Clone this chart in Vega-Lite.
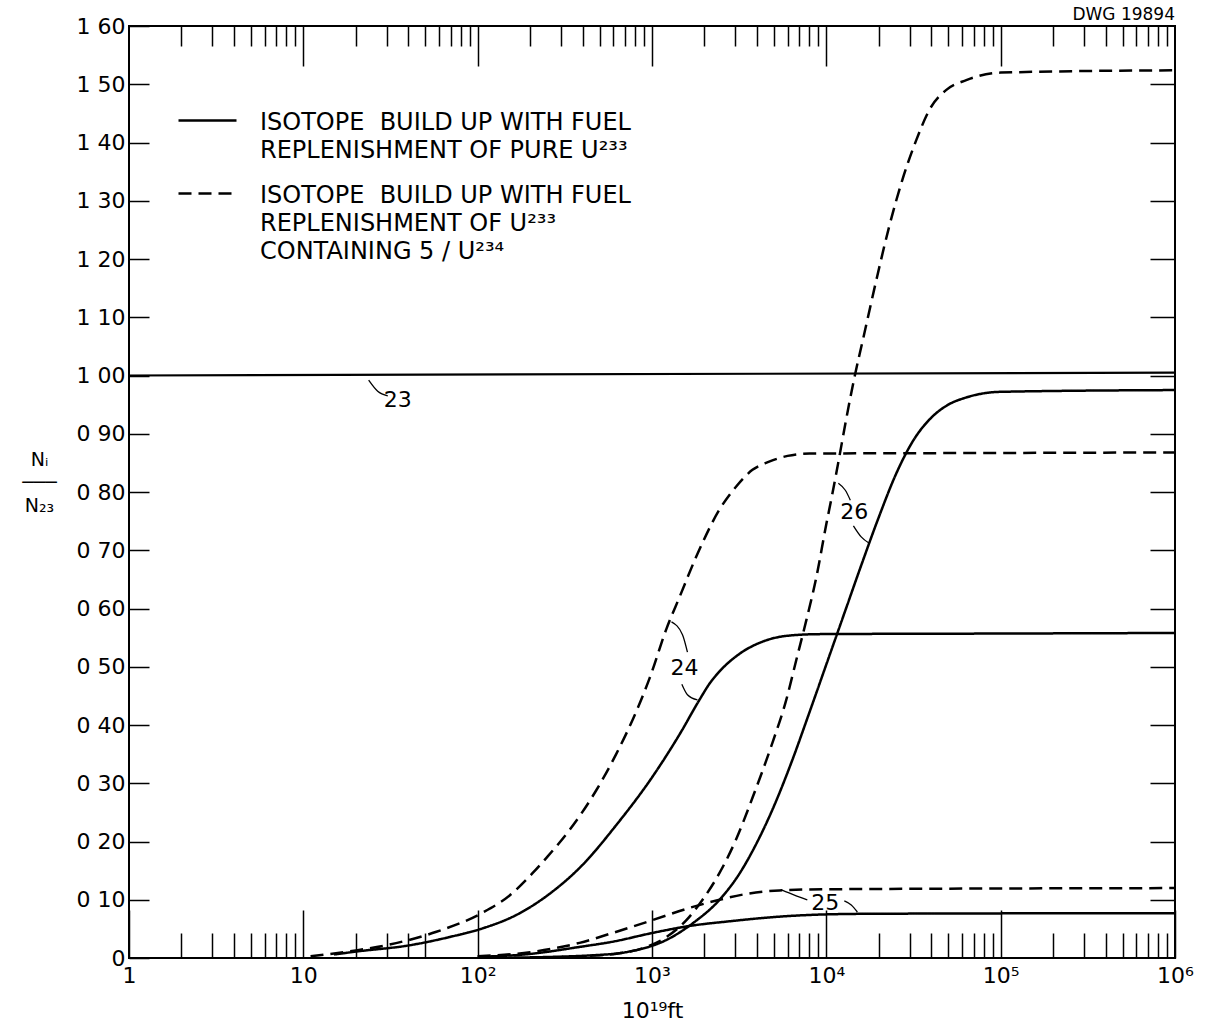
{
  "$schema": "https://vega.github.io/schema/vega-lite/v6.json",
  "width": 1046,
  "height": 932,
  "autosize": {"type": "none"},
  "padding": {"left": 129, "top": 26, "right": 39, "bottom": 70},
  "background": "white",
  "title": {"text": "DWG 19894", "anchor": "end", "frame": "group", "fontSize": 17, "font": "DejaVu Sans", "fontWeight": "normal", "offset": -9, "color": "black"},
  "config": {
    "view": {"stroke": "black", "strokeWidth": 2},
    "font": "DejaVu Sans",
    "axis": {"domain": false, "grid": false, "tickColor": "black", "tickWidth": 1.5, "labelColor": "black", "titleColor": "black", "labelFont": "DejaVu Sans", "titleFont": "DejaVu Sans", "labelFontWeight": "normal", "titleFontWeight": "normal", "labelFlush": false, "labelOverlap": false}
  },
  "datasets": {
    "curves": [
      {"iso": "24", "series": "pure", "x": 15, "y": 0.006},
      {"iso": "24", "series": "pure", "x": 20, "y": 0.011},
      {"iso": "24", "series": "pure", "x": 41, "y": 0.022},
      {"iso": "24", "series": "pure", "x": 69, "y": 0.036},
      {"iso": "24", "series": "pure", "x": 107, "y": 0.051},
      {"iso": "24", "series": "pure", "x": 167, "y": 0.074},
      {"iso": "24", "series": "pure", "x": 258, "y": 0.11},
      {"iso": "24", "series": "pure", "x": 400, "y": 0.16},
      {"iso": "24", "series": "pure", "x": 623, "y": 0.228},
      {"iso": "24", "series": "pure", "x": 1000, "y": 0.31},
      {"iso": "24", "series": "pure", "x": 1440, "y": 0.384},
      {"iso": "24", "series": "pure", "x": 1870, "y": 0.443},
      {"iso": "24", "series": "pure", "x": 2150, "y": 0.472},
      {"iso": "24", "series": "pure", "x": 2440, "y": 0.492},
      {"iso": "24", "series": "pure", "x": 3170, "y": 0.522},
      {"iso": "24", "series": "pure", "x": 4300, "y": 0.543},
      {"iso": "24", "series": "pure", "x": 5900, "y": 0.553},
      {"iso": "24", "series": "pure", "x": 9100, "y": 0.556},
      {"iso": "24", "series": "pure", "x": 100000, "y": 0.557},
      {"iso": "24", "series": "pure", "x": 1000000, "y": 0.558},
      {"iso": "24", "series": "mix", "x": 11, "y": 0.003},
      {"iso": "24", "series": "mix", "x": 20, "y": 0.013},
      {"iso": "24", "series": "mix", "x": 30, "y": 0.022},
      {"iso": "24", "series": "mix", "x": 58, "y": 0.045},
      {"iso": "24", "series": "mix", "x": 107, "y": 0.078},
      {"iso": "24", "series": "mix", "x": 152, "y": 0.107},
      {"iso": "24", "series": "mix", "x": 207, "y": 0.146},
      {"iso": "24", "series": "mix", "x": 248, "y": 0.172},
      {"iso": "24", "series": "mix", "x": 337, "y": 0.22},
      {"iso": "24", "series": "mix", "x": 479, "y": 0.288},
      {"iso": "24", "series": "mix", "x": 623, "y": 0.35},
      {"iso": "24", "series": "mix", "x": 777, "y": 0.41},
      {"iso": "24", "series": "mix", "x": 968, "y": 0.48},
      {"iso": "24", "series": "mix", "x": 1210, "y": 0.565},
      {"iso": "24", "series": "mix", "x": 1440, "y": 0.62},
      {"iso": "24", "series": "mix", "x": 1800, "y": 0.69},
      {"iso": "24", "series": "mix", "x": 2440, "y": 0.77},
      {"iso": "24", "series": "mix", "x": 3050, "y": 0.81},
      {"iso": "24", "series": "mix", "x": 3770, "y": 0.838},
      {"iso": "24", "series": "mix", "x": 4700, "y": 0.852},
      {"iso": "24", "series": "mix", "x": 6000, "y": 0.862},
      {"iso": "24", "series": "mix", "x": 8000, "y": 0.866},
      {"iso": "24", "series": "mix", "x": 100000, "y": 0.867},
      {"iso": "24", "series": "mix", "x": 1000000, "y": 0.868},
      {"iso": "25", "series": "pure", "x": 100, "y": 0.002},
      {"iso": "25", "series": "pure", "x": 200, "y": 0.007},
      {"iso": "25", "series": "pure", "x": 384, "y": 0.019},
      {"iso": "25", "series": "pure", "x": 595, "y": 0.028},
      {"iso": "25", "series": "pure", "x": 1006, "y": 0.043},
      {"iso": "25", "series": "pure", "x": 1640, "y": 0.055},
      {"iso": "25", "series": "pure", "x": 2780, "y": 0.063},
      {"iso": "25", "series": "pure", "x": 5380, "y": 0.071},
      {"iso": "25", "series": "pure", "x": 10400, "y": 0.075},
      {"iso": "25", "series": "pure", "x": 20000, "y": 0.076},
      {"iso": "25", "series": "pure", "x": 1000000, "y": 0.077},
      {"iso": "25", "series": "mix", "x": 100, "y": 0.003},
      {"iso": "25", "series": "mix", "x": 200, "y": 0.01},
      {"iso": "25", "series": "mix", "x": 384, "y": 0.026},
      {"iso": "25", "series": "mix", "x": 595, "y": 0.043},
      {"iso": "25", "series": "mix", "x": 1006, "y": 0.065},
      {"iso": "25", "series": "mix", "x": 1640, "y": 0.086},
      {"iso": "25", "series": "mix", "x": 2440, "y": 0.1},
      {"iso": "25", "series": "mix", "x": 3480, "y": 0.11},
      {"iso": "25", "series": "mix", "x": 5380, "y": 0.116},
      {"iso": "25", "series": "mix", "x": 10000, "y": 0.118},
      {"iso": "25", "series": "mix", "x": 1000000, "y": 0.12},
      {"iso": "26", "series": "pure", "x": 150, "y": 0.0005},
      {"iso": "26", "series": "pure", "x": 480, "y": 0.005},
      {"iso": "26", "series": "pure", "x": 740, "y": 0.011},
      {"iso": "26", "series": "pure", "x": 1210, "y": 0.031},
      {"iso": "26", "series": "pure", "x": 1720, "y": 0.06},
      {"iso": "26", "series": "pure", "x": 2440, "y": 0.1},
      {"iso": "26", "series": "pure", "x": 3162, "y": 0.144},
      {"iso": "26", "series": "pure", "x": 3981, "y": 0.197},
      {"iso": "26", "series": "pure", "x": 5012, "y": 0.261},
      {"iso": "26", "series": "pure", "x": 6310, "y": 0.336},
      {"iso": "26", "series": "pure", "x": 7943, "y": 0.419},
      {"iso": "26", "series": "pure", "x": 10000, "y": 0.504},
      {"iso": "26", "series": "pure", "x": 12590, "y": 0.589},
      {"iso": "26", "series": "pure", "x": 15850, "y": 0.674},
      {"iso": "26", "series": "pure", "x": 19950, "y": 0.756},
      {"iso": "26", "series": "pure", "x": 25120, "y": 0.831},
      {"iso": "26", "series": "pure", "x": 31620, "y": 0.889},
      {"iso": "26", "series": "pure", "x": 39810, "y": 0.927},
      {"iso": "26", "series": "pure", "x": 50120, "y": 0.95},
      {"iso": "26", "series": "pure", "x": 63100, "y": 0.962},
      {"iso": "26", "series": "pure", "x": 100000, "y": 0.972},
      {"iso": "26", "series": "pure", "x": 1000000, "y": 0.975},
      {"iso": "26", "series": "mix", "x": 200, "y": 0.0005},
      {"iso": "26", "series": "mix", "x": 400, "y": 0.003},
      {"iso": "26", "series": "mix", "x": 650, "y": 0.008},
      {"iso": "26", "series": "mix", "x": 930, "y": 0.019},
      {"iso": "26", "series": "mix", "x": 1210, "y": 0.036},
      {"iso": "26", "series": "mix", "x": 1575, "y": 0.065},
      {"iso": "26", "series": "mix", "x": 1950, "y": 0.1},
      {"iso": "26", "series": "mix", "x": 2440, "y": 0.146},
      {"iso": "26", "series": "mix", "x": 3030, "y": 0.203},
      {"iso": "26", "series": "mix", "x": 3770, "y": 0.275},
      {"iso": "26", "series": "mix", "x": 4900, "y": 0.369},
      {"iso": "26", "series": "mix", "x": 5890, "y": 0.443},
      {"iso": "26", "series": "mix", "x": 6730, "y": 0.512},
      {"iso": "26", "series": "mix", "x": 7680, "y": 0.58},
      {"iso": "26", "series": "mix", "x": 8770, "y": 0.654},
      {"iso": "26", "series": "mix", "x": 10000, "y": 0.745},
      {"iso": "26", "series": "mix", "x": 10800, "y": 0.795},
      {"iso": "26", "series": "mix", "x": 11700, "y": 0.85},
      {"iso": "26", "series": "mix", "x": 13000, "y": 0.925},
      {"iso": "26", "series": "mix", "x": 14500, "y": 0.997},
      {"iso": "26", "series": "mix", "x": 16200, "y": 1.061},
      {"iso": "26", "series": "mix", "x": 19360, "y": 1.164},
      {"iso": "26", "series": "mix", "x": 22900, "y": 1.255},
      {"iso": "26", "series": "mix", "x": 27300, "y": 1.336},
      {"iso": "26", "series": "mix", "x": 32800, "y": 1.404},
      {"iso": "26", "series": "mix", "x": 39000, "y": 1.456},
      {"iso": "26", "series": "mix", "x": 48600, "y": 1.49},
      {"iso": "26", "series": "mix", "x": 63500, "y": 1.507},
      {"iso": "26", "series": "mix", "x": 100000, "y": 1.52},
      {"iso": "26", "series": "mix", "x": 1000000, "y": 1.524}
    ],
    "c23": [
      {"iso": "23", "x": 1, "y": 1.0},
      {"iso": "23", "x": 1000000, "y": 1.005}
    ],
    "labels": [
      {"label": "23", "x": 34.8, "y": 0.958},
      {"label": "24", "x": 1536, "y": 0.498},
      {"label": "25", "x": 9870, "y": 0.094},
      {"label": "26", "x": 14460, "y": 0.766}
    ],
    "arrows": [
      {"arrow": "a23", "x": 30.5, "y": 0.965},
      {"arrow": "a23", "x": 26.7, "y": 0.973},
      {"arrow": "a23", "x": 23.7, "y": 0.992},
      {"arrow": "a24d", "x": 1597, "y": 0.525},
      {"arrow": "a24d", "x": 1496, "y": 0.555},
      {"arrow": "a24d", "x": 1294, "y": 0.577},
      {"arrow": "a24s", "x": 1483, "y": 0.47},
      {"arrow": "a24s", "x": 1597, "y": 0.452},
      {"arrow": "a24s", "x": 1823, "y": 0.443},
      {"arrow": "a26d", "x": 13730, "y": 0.786},
      {"arrow": "a26d", "x": 12850, "y": 0.803},
      {"arrow": "a26d", "x": 11720, "y": 0.815},
      {"arrow": "a26s", "x": 14300, "y": 0.742},
      {"arrow": "a26s", "x": 15850, "y": 0.723},
      {"arrow": "a26s", "x": 17630, "y": 0.712},
      {"arrow": "a25d", "x": 7780, "y": 0.0996},
      {"arrow": "a25d", "x": 6560, "y": 0.108},
      {"arrow": "a25d", "x": 5520, "y": 0.117},
      {"arrow": "a25s", "x": 12680, "y": 0.098},
      {"arrow": "a25s", "x": 13900, "y": 0.091},
      {"arrow": "a25s", "x": 15070, "y": 0.079}
    ]
  },
  "layer": [
    {
      "data": {"name": "curves"},
      "mark": {"type": "line", "interpolate": "monotone", "strokeWidth": 2.5, "color": "black"},
      "encoding": {
        "x": {"field": "x", "type": "quantitative", "scale": {"type": "log", "domain": [1, 1000000], "nice": false},
          "axis": {"orient": "bottom", "values": [1, 10, 100, 1000, 10000, 100000, 1000000], "tickSize": -48, "labelPadding": 55, "labelFontSize": 22,
            "labelExpr": "datum.value == 1 ? '1' : datum.value == 10 ? '10' : datum.value == 100 ? '10²' : datum.value == 1000 ? '10³' : datum.value == 10000 ? '10⁴' : datum.value == 100000 ? '10⁵' : '10⁶'",
            "title": "10¹⁹ft", "titleFontSize": 22, "titlePadding": 14}},
        "y": {"field": "y", "type": "quantitative", "scale": {"domain": [0, 1.6], "nice": false, "zero": true},
          "axis": {"orient": "left", "values": [0, 0.1, 0.2, 0.3, 0.4, 0.5, 0.6, 0.7, 0.8, 0.9, 1.0, 1.1, 1.2, 1.3, 1.4, 1.5, 1.6], "tickSize": -20, "labelPadding": 24, "labelFontSize": 22,
            "labelExpr": "datum.value == 0 ? '0' : replace(format(datum.value, '.2f'), '.', ' ')",
            "title": ["Nᵢ", "───", "N₂₃"], "titleAngle": 0, "titleAlign": "center", "titleBaseline": "middle", "titleFontSize": 19, "titleLineHeight": 23, "titleX": -90, "titleY": 433}},
        "detail": {"field": "iso"},
        "strokeDash": {"field": "series", "type": "nominal", "scale": {"domain": ["pure", "mix"], "range": [[1, 0], [13, 7]]},
          "legend": {"orient": "none", "legendX": 48, "legendY": 64, "title": null, "padding": 0, "symbolType": "stroke", "symbolSize": 3364, "symbolStrokeWidth": 2.5, "symbolStrokeColor": "black",
            "labelFontSize": 24, "labelFont": "DejaVu Sans", "labelColor": "black", "labelLimit": 800, "labelOffset": 22, "rowPadding": -4, "labelBaseline": "top",
            "labelExpr": "datum.value == 'pure' ? ['ISOTOPE\u00a0 BUILD UP WITH FUEL', 'REPLENISHMENT OF PURE U²³³'] : ['ISOTOPE\u00a0 BUILD UP WITH FUEL', 'REPLENISHMENT OF U²³³', 'CONTAINING 5 / U²³⁴']",
            "encode": {"labels": {"update": {"lineHeight": {"value": 28}, "dy": {"value": -10}}}}}}
      }
    },
    {
      "data": {"name": "c23"},
      "mark": {"type": "line", "strokeWidth": 2.2, "color": "black"},
      "encoding": {
        "x": {"field": "x", "type": "quantitative", "scale": {"type": "log", "domain": [1, 1000000], "nice": false},
          "axis": {"orient": "bottom", "values": [2, 3, 4, 5, 6, 7, 8, 9, 20, 30, 40, 50, 2000, 3000, 4000, 5000, 6000, 7000, 8000, 9000, 20000, 30000, 40000, 50000, 60000, 70000, 80000, 90000, 200000, 300000, 400000, 500000, 600000, 700000, 800000, 900000], "tickSize": -25, "labels": false, "title": null}},
        "y": {"field": "y", "type": "quantitative", "scale": {"domain": [0, 1.6], "nice": false},
          "axis": {"orient": "right", "values": [0.1, 0.2, 0.3, 0.4, 0.5, 0.6, 0.7, 0.8, 0.9, 1.0, 1.1, 1.2, 1.3, 1.4, 1.5], "tickSize": -25, "labels": false, "title": null}}
      }
    },
    {
      "data": {"name": "labels"},
      "mark": {"type": "text", "fontSize": 22, "font": "DejaVu Sans", "color": "black"},
      "encoding": {
        "x": {"field": "x", "type": "quantitative", "scale": {"type": "log", "domain": [1, 1000000], "nice": false},
          "axis": {"orient": "top", "values": [2, 3, 4, 5, 6, 7, 8, 9, 20, 30, 40, 50, 60, 70, 80, 90, 200, 300, 400, 500, 600, 700, 800, 900, 2000, 3000, 4000, 5000, 6000, 7000, 8000, 9000, 20000, 30000, 40000, 50000, 60000, 70000, 80000, 90000, 200000, 300000, 400000, 500000, 600000, 700000, 800000, 900000], "tickSize": -20, "labels": false, "title": null}},
        "y": {"field": "y", "type": "quantitative", "scale": {"domain": [0, 1.6], "nice": false}, "axis": null},
        "text": {"field": "label"}
      }
    },
    {
      "data": {"name": "arrows"},
      "mark": {"type": "line", "strokeWidth": 1.3, "color": "black", "interpolate": "monotone"},
      "encoding": {
        "x": {"field": "x", "type": "quantitative", "scale": {"type": "log", "domain": [1, 1000000], "nice": false},
          "axis": {"orient": "top", "values": [10, 100, 1000, 10000, 100000], "tickSize": -40, "labels": false, "title": null}},
        "y": {"field": "y", "type": "quantitative", "scale": {"domain": [0, 1.6], "nice": false}, "axis": null},
        "detail": {"field": "arrow"}
      }
    }
  ],
  "resolve": {"axis": {"x": "independent", "y": "independent"}}
}
